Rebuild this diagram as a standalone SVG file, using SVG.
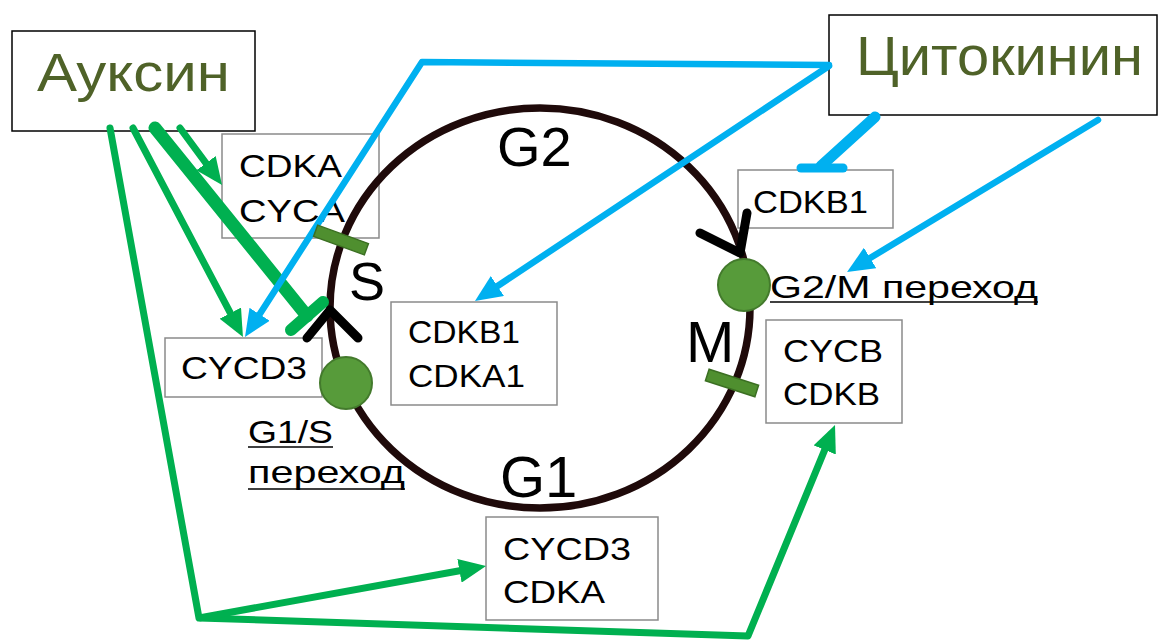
<svg xmlns="http://www.w3.org/2000/svg" width="1160" height="641" viewBox="0 0 1160 641">
  <style>
    .hormone { fill: #ffffff; stroke: #000000; stroke-width: 1.5; }
    .hormone-label { font-family: "Liberation Sans", "DejaVu Sans", sans-serif; fill: #4f6228; }
    .complex { fill: #ffffff; stroke: #8a8a8a; stroke-width: 1.5; }
    .complex-label { font-family: "Liberation Sans", "DejaVu Sans", sans-serif; font-size: 32px; fill: #000000; }
    .phase { font-family: "Liberation Sans", Arial, sans-serif; fill: #000000; }
    .note { font-family: "Liberation Sans", "DejaVu Sans", sans-serif; font-size: 32px; fill: #000000; }
    .underline { stroke: #000000; stroke-width: 1.6; }
    .ring { fill: none; stroke: #1f0a0a; stroke-width: 7.5; }
    .auxin { fill: none; stroke: #00b050; stroke-width: 7; stroke-linejoin: round; }
    .cyto { fill: none; stroke: #00b0f0; stroke-width: 6.5; stroke-linejoin: round; }
    .chevron { fill: none; stroke: #000000; stroke-width: 9; stroke-linecap: round; stroke-linejoin: round; }
    .checkpoint { fill: #579b3a; stroke: #437a2c; stroke-width: 2; }
    .block { fill: #4f8f2f; stroke: #3b6f22; stroke-width: 1.5; }
  </style>
  <defs>
    <marker id="head-auxin" markerUnits="userSpaceOnUse" markerWidth="27" markerHeight="24" viewBox="0 0 27 24" refX="17" refY="12" orient="auto">
      <path d="M0,0 L27,12 L0,24 z" fill="#00b050"/>
    </marker>
    <marker id="head-cyto" markerUnits="userSpaceOnUse" markerWidth="27" markerHeight="24" viewBox="0 0 27 24" refX="17" refY="12" orient="auto">
      <path d="M0,0 L27,12 L0,24 z" fill="#00b0f0"/>
    </marker>
  </defs>

  <rect width="1160" height="641" fill="#ffffff"/>

  <!-- hormone sources -->
  <g id="auxin">
    <rect class="hormone" x="12" y="31" width="243" height="100"/>
    <text class="hormone-label" x="37" y="91" font-size="54" textLength="193" lengthAdjust="spacingAndGlyphs">Ауксин</text>
  </g>
  <g id="cytokinin">
    <rect class="hormone" x="829" y="15" width="328" height="100"/>
    <text class="hormone-label" x="856" y="75" font-size="56" textLength="287" lengthAdjust="spacingAndGlyphs">Цитокинин</text>
  </g>

  <!-- CDK / cyclin complexes -->
  <g id="cdka-cyca">
    <rect class="complex" x="222" y="134" width="157" height="104"/>
    <text class="complex-label" x="239" y="177" textLength="103" lengthAdjust="spacingAndGlyphs">CDKA</text>
    <text class="complex-label" x="239" y="222" textLength="106" lengthAdjust="spacingAndGlyphs">CYCA</text>
  </g>
  <g id="cycd3-left">
    <rect class="complex" x="165" y="338" width="157" height="59"/>
    <text class="complex-label" x="181" y="379" textLength="126" lengthAdjust="spacingAndGlyphs">CYCD3</text>
  </g>
  <g id="cdkb1-cdka1">
    <rect class="complex" x="391" y="302" width="166" height="103"/>
    <text class="complex-label" x="408" y="343" textLength="112" lengthAdjust="spacingAndGlyphs">CDKB1</text>
    <text class="complex-label" x="408" y="387" textLength="117" lengthAdjust="spacingAndGlyphs">CDKA1</text>
  </g>
  <g id="cdkb1-right">
    <rect class="complex" x="738" y="170" width="155" height="58"/>
    <text class="complex-label" x="753" y="213" textLength="115" lengthAdjust="spacingAndGlyphs">CDKB1</text>
  </g>
  <g id="cycb-cdkb">
    <rect class="complex" x="766" y="320" width="136" height="103"/>
    <text class="complex-label" x="783" y="362" textLength="100" lengthAdjust="spacingAndGlyphs">CYCB</text>
    <text class="complex-label" x="783" y="405" textLength="97" lengthAdjust="spacingAndGlyphs">CDKB</text>
  </g>
  <g id="cycd3-cdka">
    <rect class="complex" x="486" y="517" width="172" height="103"/>
    <text class="complex-label" x="503" y="560" textLength="128" lengthAdjust="spacingAndGlyphs">CYCD3</text>
    <text class="complex-label" x="503" y="603" textLength="102" lengthAdjust="spacingAndGlyphs">CDKA</text>
  </g>

  <!-- cell cycle ring with phase names -->
  <g id="cell-cycle">
    <ellipse class="ring" cx="540" cy="308" rx="210" ry="200"/>
    <text class="phase" x="497" y="166" font-size="56">G2</text>
    <text class="phase" x="349" y="300" font-size="54">S</text>
    <text class="phase" x="686" y="362" font-size="58">M</text>
    <text class="phase" x="500" y="497" font-size="58">G1</text>
  </g>

  <!-- regulatory connectors -->
  <g id="connectors">
    <!-- auxin -->
    <line class="auxin" x1="180" y1="128" x2="216.1" y2="176.9" stroke-linecap="round" marker-end="url(#head-auxin)"/>
    <line class="auxin" x1="133" y1="128" x2="238.3" y2="328.2" stroke-linecap="round" marker-end="url(#head-auxin)"/>
    <line x1="155" y1="128" x2="307" y2="316" stroke="#00b050" stroke-width="13" stroke-linecap="round"/>
    <line x1="291" y1="330" x2="323" y2="302" stroke="#00b050" stroke-width="12" stroke-linecap="round"/>
    <polyline class="auxin" points="110,128 199,618 748,636 831.2,434.2" stroke-linecap="round" marker-end="url(#head-auxin)"/>
    <line class="auxin" x1="199" y1="618" x2="476.2" y2="567.8" stroke-width="8" marker-end="url(#head-auxin)"/>
    <!-- cytokinin -->
    <polyline class="cyto" points="829,65 422,62 250.4,328.6" stroke-linecap="round" marker-end="url(#head-cyto)"/>
    <line class="cyto" x1="829" y1="66" x2="483.3" y2="295.5" stroke-linecap="round" marker-end="url(#head-cyto)"/>
    <line class="cyto" x1="1098" y1="120" x2="855.6" y2="266.8" stroke-linecap="round" marker-end="url(#head-cyto)"/>
    <line x1="875" y1="117" x2="821" y2="166" stroke="#00b0f0" stroke-width="11" stroke-linecap="round"/>
    <line x1="801" y1="168" x2="843" y2="168" stroke="#00b0f0" stroke-width="9" stroke-linecap="round"/>
  </g>

  <!-- progression arrows and blocks on the ring -->
  <g id="progression">
    <polyline class="chevron" points="307,338 330,310 358,338"/>
    <polyline class="chevron" points="700,233 740,253 747,213"/>
    <rect class="block" x="-27" y="-6" width="54" height="12" transform="translate(341,240) rotate(20)"/>
    <rect class="block" x="-26" y="-6" width="52" height="12" transform="translate(732,383) rotate(18)"/>
  </g>

  <!-- checkpoints -->
  <g id="g1-s">
    <circle class="checkpoint" cx="346" cy="383" r="26"/>
    <text class="note" x="248" y="443" textLength="85" lengthAdjust="spacingAndGlyphs">G1/S</text>
    <line class="underline" x1="248" y1="447" x2="333" y2="447"/>
    <text class="note" x="248" y="483" textLength="157" lengthAdjust="spacingAndGlyphs">переход</text>
    <line class="underline" x1="248" y1="489" x2="405" y2="489"/>
  </g>
  <g id="g2-m">
    <circle class="checkpoint" cx="744" cy="285" r="26"/>
    <text class="note" x="770" y="298" textLength="268" lengthAdjust="spacingAndGlyphs">G2/M переход</text>
    <line class="underline" x1="770" y1="302" x2="1038" y2="302"/>
  </g>
</svg>
